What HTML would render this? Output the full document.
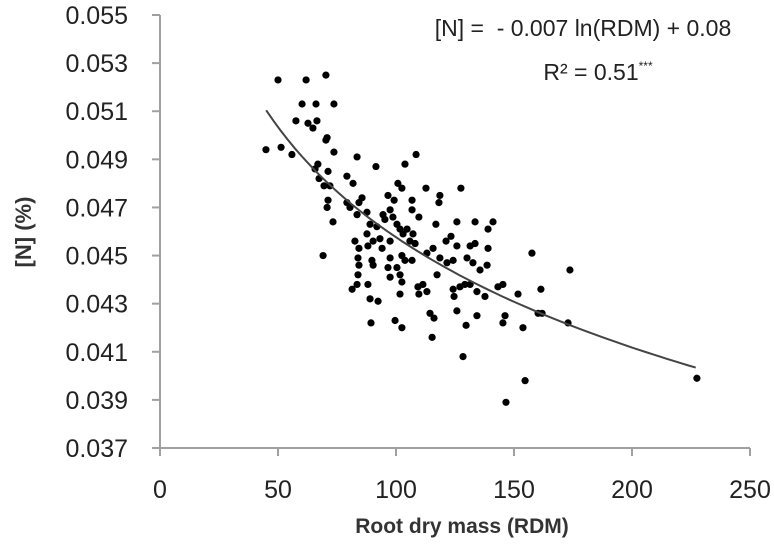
<!DOCTYPE html>
<html><head><meta charset="utf-8">
<style>
html,body{margin:0;padding:0;background:#fff;}
svg{display:block;font-family:"Liberation Sans",sans-serif;}
</style></head>
<body>
<svg id="chart" width="774" height="549" viewBox="0 0 774 549">
<g id="axes"></g>
<g id="points"></g>
<path id="trend" fill="none" stroke="#444" stroke-width="2"/>
<text x="583" y="36" text-anchor="middle" font-size="23" fill="#222" xml:space="preserve">[N] =  - 0.007 ln(RDM) + 0.08</text>
<text x="598" y="80" text-anchor="middle" font-size="23" fill="#222">R² = 0.51<tspan font-size="12" dy="-10">***</tspan></text>
<text x="0" y="0" transform="translate(31,232) rotate(-90)" text-anchor="middle" font-size="22" font-weight="bold" fill="#333">[N] (%)</text>
<text x="462" y="533" text-anchor="middle" font-size="21" font-weight="bold" fill="#333">Root dry mass (RDM)</text>
</svg>
<script>
const rdm = [50.0,61.9,70.3,60.2,66.1,73.7,57.6,62.7,66.5,64.8,70.8,44.9,51.3,55.9,
70.3,73.7,83.5,91.5,108.5,103.8,66.9,65.7,71.2,67.4,69.5,72.0,79.2,81.8,100.8,102.5,112.7,127.5,
71.2,70.8,79.2,80.5,85.6,84.3,96.6,99.2,106.8,118.6,118.2,83.5,87.7,94.5,97.5,95.3,98.7,106.8,109.7,
73.3,89.0,91.9,100.4,101.7,104.7,107.2,103.0,105.9,108.1,116.9,125.8,133.5,141.1,139.0,87.7,82.6,90.3,
94.1,97.5,84.3,88.1,93.2,123.3,121.2,125.8,131.4,133.5,139.0,113.1,115.7,118.6,121.6,124.2,102.5,103.8,
97.5,106.8,130.1,132.6,138.6,135.6,69.1,83.9,84.3,89.8,90.3,96.6,100.4,101.7,97.5,83.9,117.4,102.5,83.5,
81.4,88.1,101.7,109.3,111.4,113.1,109.7,124.2,124.6,127.1,129.2,131.4,134.3,137.7,143.2,145.3,151.7,
89.0,92.4,125.8,134.3,146.2,145.3,89.4,99.6,102.5,114.4,116.1,129.7,115.3,128.4,
157.6,173.7,161.4,160.2,161.9,172.9,153.8,154.7,227.5,146.6];
const nPct = [0.0523,0.0523,0.0525,0.0513,0.0513,0.0513,0.0506,0.0505,0.0506,0.0503,0.0499,0.0494,0.0495,0.0492,
0.0498,0.0493,0.0491,0.0487,0.0492,0.0488,0.0488,0.0486,0.0485,0.0482,0.0479,0.0479,0.0483,0.0480,0.0480,0.0478,0.0478,0.0478,
0.0473,0.0470,0.0472,0.0470,0.0474,0.0472,0.0475,0.0473,0.0473,0.0475,0.0472,0.0467,0.0468,0.0467,0.0469,0.0465,0.0466,0.0469,0.0466,
0.0464,0.0463,0.0462,0.0463,0.0461,0.0461,0.0459,0.0459,0.0456,0.0455,0.0463,0.0464,0.0464,0.0464,0.0461,0.0459,0.0456,0.0456,
0.0453,0.0456,0.0453,0.0454,0.0457,0.0458,0.0456,0.0454,0.0454,0.0455,0.0453,0.0451,0.0453,0.0449,0.0447,0.0448,0.0450,0.0448,
0.0449,0.0448,0.0449,0.0447,0.0446,0.0444,0.0450,0.0449,0.0446,0.0448,0.0446,0.0445,0.0445,0.0442,0.0441,0.0442,0.0442,0.0439,0.0438,
0.0436,0.0438,0.0434,0.0437,0.0438,0.0435,0.0434,0.0436,0.0433,0.0437,0.0438,0.0438,0.0435,0.0433,0.0437,0.0438,0.0434,
0.0432,0.0431,0.0427,0.0425,0.0425,0.0422,0.0422,0.0423,0.0420,0.0426,0.0424,0.0421,0.0416,0.0408,
0.0451,0.0444,0.0436,0.0426,0.0426,0.0422,0.0420,0.0398,0.0399,0.0389];
const xTicks = [0,50,100,150,200,250];
const yTicks = [0.037,0.039,0.041,0.043,0.045,0.047,0.049,0.051,0.053,0.055];
const yTickLabels = ["0.037","0.039","0.041","0.043","0.045","0.047","0.049","0.051","0.053","0.055"];
const trendCoef = [-0.00661, 0.0762];
const trendRange = [45, 227];

const X0=160, X1=750, Y0=448, Y1=15;
const xS = v => X0 + (v-0)/(250-0)*(X1-X0);
const yS = v => Y0 - (v-0.037)/(0.055-0.037)*(Y0-Y1);
const NS="http://www.w3.org/2000/svg";
const axes=document.getElementById('axes');
function mk(tag,attrs,parent){const e=document.createElementNS(NS,tag);for(const k in attrs)e.setAttribute(k,attrs[k]);parent.appendChild(e);return e;}

const ya=mk('line',{x1:X0,y1:Y1,x2:X0,y2:Y0+8,stroke:'#a0a0a0','stroke-width':2},axes);


const xa=mk('line',{x1:X0-8,y1:Y0,x2:X1,y2:Y0,stroke:'#a0a0a0','stroke-width':2},axes);



yTicks.forEach((v,i)=>{
  const y=yS(v);
  const t=mk('line',{x1:X0-8,y1:y,x2:X0,y2:y,stroke:'#a0a0a0','stroke-width':2},axes);
  
  
  const l=mk('text',{x:128,y:y+9,'text-anchor':'end','font-size':25,fill:'#222'},axes);
  l.textContent=yTickLabels[i];
  
  
});
xTicks.forEach(v=>{
  const x=xS(v);
  const t=mk('line',{x1:x,y1:Y0,x2:x,y2:Y0+8,stroke:'#a0a0a0','stroke-width':2},axes);
  
  
  const l=mk('text',{x:x,y:Y0+50,'text-anchor':'middle','font-size':25,fill:'#222'},axes);
  l.textContent=String(v);
  
  
});

const pg=document.getElementById('points');
rdm.forEach((v,i)=>{
  const c=mk('circle',{cx:xS(v),cy:yS(nPct[i]),r:3.6,fill:'#000'},pg);
  
  
});

let d='';
for(let k=0;k<=60;k++){
  const xv=trendRange[0]+(trendRange[1]-trendRange[0])*k/60;
  const yv=trendCoef[0]*Math.log(xv)+trendCoef[1];
  d+=(k?'L':'M')+xS(xv).toFixed(1)+','+yS(yv).toFixed(1);
}
document.getElementById('trend').setAttribute('d',d);
</script>
</body></html>
